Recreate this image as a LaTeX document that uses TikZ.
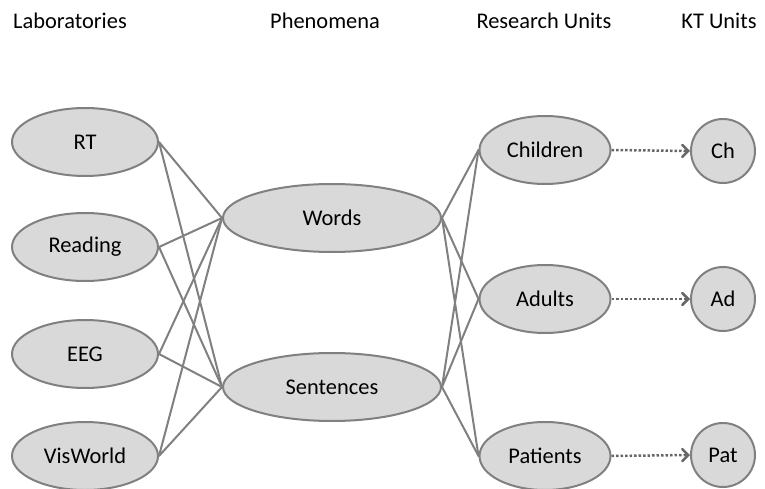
\documentclass[tikz,border=0pt]{standalone}
\usepackage{fontspec}
\setmainfont{Carlito}
\usetikzlibrary{shapes.geometric,arrows.meta}
\begin{document}
\begin{tikzpicture}[x=1bp, y=-1bp, font=\fontsize{22.5}{26}\selectfont, line join=round, line cap=round,
	unit/.style={ellipse, draw=gray, fill=black!15, line width=2bp, inner sep=0pt, minimum height=68bp},
	lab/.style={unit, minimum width=146bp},
	phen/.style={unit, minimum width=218bp},
	res/.style={unit, minimum width=131bp},
	kt/.style={circle, draw=gray, fill=black!15, line width=2bp, inner sep=0pt, minimum size=64bp},
	link/.style={draw=gray, line width=2bp},
	ktlink/.style={draw=black!60, line width=2.5bp, line cap=butt, dash pattern=on 2.5bp off 2bp, -{Straight Barb[length=6bp,width=12bp,line cap=round]}}]
	\useasboundingbox (0,0) rectangle (765,489);
	% Überschriften
	\node (hlab) at (70,21) {Laboratories};
	\node (hphen) at (325,21) {Phenomena};
	\node (hres) at (544,21) {Research Units};
	\node (hkt) at (719,21) {KT Units};
	% Knoten
	\node[lab] (rt) at (85,142) {RT};
	\node[lab] (read) at (85,247) {Reading};
	\node[lab] (eeg) at (85,354) {EEG};
	\node[lab] (vis) at (85,456) {VisWorld};
	\node[phen] (words) at (332,218) {Words};
	\node[phen] (sent) at (332,387) {Sentences};
	\node[res] (child) at (545,150) {Children};
	\node[res] (adult) at (545,299) {Adults};
	\node[res] (pat) at (545,456) {Patients};
	\node[kt] (ch) at (723,151) {Ch};
	\node[kt] (ad) at (723,299) {Ad};
	\node[kt] (pt) at (723,455) {Pat};
	% Verbindungen
	\draw[link] (rt.east)--(words.west) (rt.east)--(sent.west);
	\draw[link] (read.east)--(words.west) (read.east)--(sent.west);
	\draw[link] (eeg.east)--(words.west) (eeg.east)--(sent.west);
	\draw[link] (vis.east)--(words.west) (vis.east)--(sent.west);
	\draw[link] (words.east)--(child.west) (words.east)--(adult.west) (words.east)--(pat.west);
	\draw[link] (sent.east)--(child.west) (sent.east)--(adult.west) (sent.east)--(pat.west);
	\draw[ktlink] (child.east)--(ch.west);
	\draw[ktlink] (adult.east)--(ad.west);
	\draw[ktlink] (pat.east)--(pt.west);
\end{tikzpicture}
\end{document}
